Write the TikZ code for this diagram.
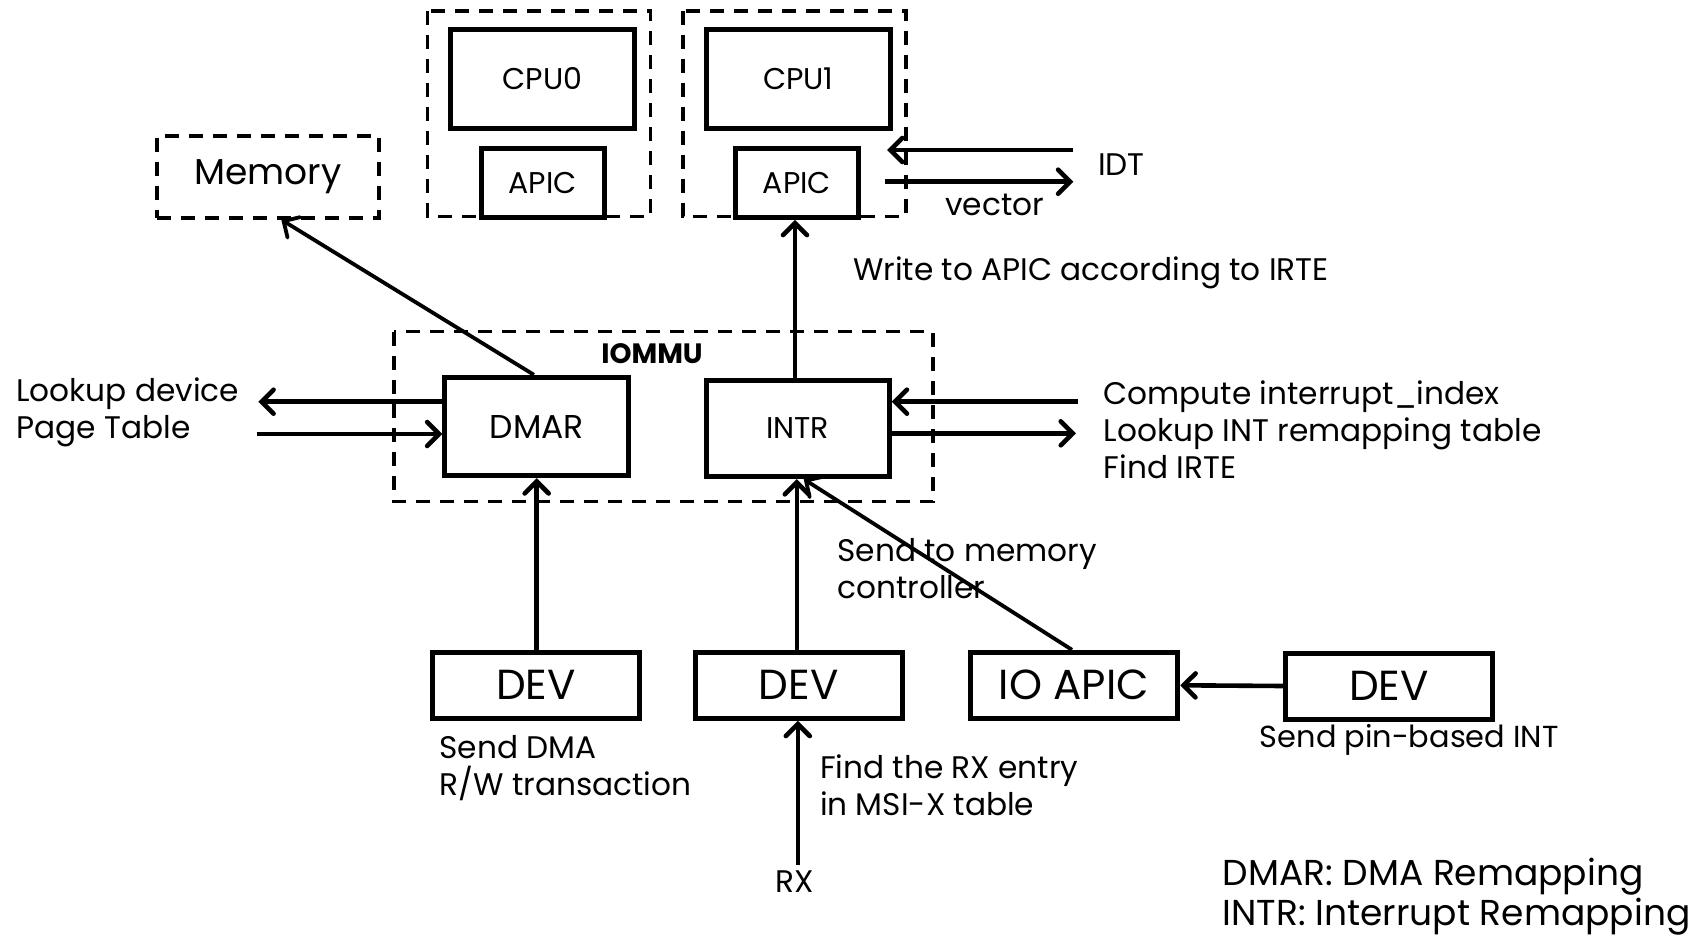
\documentclass[tikz,border=0pt]{standalone}
\usepackage{fontspec}
\setmainfont{Poppins}
\usetikzlibrary{arrows.meta}
\begin{document}
\begin{tikzpicture}[x=0.5pt,y=-0.5pt,
  box/.style={draw,line width=2.5pt,inner sep=0pt,minimum width=#1},
  grp/.style={draw,line width=1.7pt,dash pattern=on 7pt off 5pt},
  arr/.style={line width=2.3pt,-{Straight Barb[length=6pt,width=12pt,line cap=round]}},
  lbl/.style={inner sep=0pt,align=left,font=\fontsize{15.6}{18.5}\selectfont},
  mid/.style={font=\fontsize{15}{18}\selectfont},
  big/.style={font=\fontsize{21}{24}\selectfont}]
\useasboundingbox (0,0) rectangle (1704,937);

% dashed groups
\node[grp,minimum width=111pt,minimum height=41pt,font=\fontsize{18}{20}\selectfont] (mem) at (267.8,177) {Memory};
\draw[grp] (427.6,11) rectangle (650.4,216.7);
\draw[grp] (683,11) rectangle (906,216.7);
\draw[grp] (393.8,331.7) rectangle (932.8,501.7);
\node[font=\bfseries\fontsize{14}{16}\selectfont] (iommu) at (652,354) {IOMMU};

% CPUs and local APICs
\node[box=91.8pt,minimum height=49.5pt,mid] (cpu0) at (542.5,78.8) {CPU0};
\node[box=61.5pt,minimum height=34.3pt,mid] (apic0) at (542.5,183) {APIC};
\node[box=92.4pt,minimum height=49.5pt,mid] (cpu1) at (798.4,78.8) {CPU1};
\node[box=61.1pt,minimum height=34.3pt,mid] (apic1) at (797,183) {APIC};

% IOMMU units
\node[box=91.8pt,minimum height=49.2pt,font=\fontsize{16.5}{18}\selectfont] (dmar) at (536.7,426.5) {DMAR};
\node[box=91.6pt,minimum height=48.3pt,mid] (intr) at (797.6,428.3) {INTR};

% devices
\node[box=103.9pt,minimum height=33pt,big] (dev1) at (536,685.3) {DEV};
\node[box=103.6pt,minimum height=33pt,big] (dev2) at (798.6,685.3) {DEV};
\node[box=103.9pt,minimum height=33pt,big] (ioapic) at (1073.9,685.3) {IO APIC};
\node[box=103.7pt,minimum height=33pt,big] (dev3) at (1389,686) {DEV};

% free ends
\coordinate (idtin) at (1073.3,150);
\coordinate (idttip) at (887,150);
\coordinate (vecbeg) at (885.4,181.7);
\coordinate (vecend) at (1073.3,181.7);
\coordinate (pgout) at (258.3,401.7);
\coordinate (pgin) at (256.6,434);
\coordinate (irin) at (1077.7,401.7);
\coordinate (irout) at (1076,433.3);
\coordinate (rx) at (797.8,865);

% connectors
\draw[arr,line width=1.9pt] (dmar.north -| 533.9,0) -- (mem.south -| 281.3,0);
\draw[arr] (intr.north -| 795,0) -- (apic1.south -| 795,0);
\draw[arr] (idtin) -- (idttip);
\draw[arr] (vecbeg) -- (vecend);
\draw[arr] (dmar.west |- pgout) -- (pgout);
\draw[arr] (pgin) -- (dmar.west |- pgin);
\draw[arr] (irin) -- (intr.east |- irin);
\draw[arr] (intr.east |- irout) -- (irout);
\draw[arr] (dev1.north -| 536.7,0) -- (dmar.south -| 536.7,0);
\draw[arr] (dev2.north -| 796.8,0) -- (intr.south -| 796.8,0);
\draw[arr,line width=1.9pt] (ioapic.north -| 1072,0) -- (intr.south -| 803.7,0);
\draw[arr] (rx) -- (dev2.south -| rx);
\draw[arr] (dev3.west) -- (ioapic.east);

% labels
\node[lbl,anchor=west] (idt) at (1097.8,165) {IDT};
\node[lbl,anchor=west] (vec) at (945,205) {vector};
\node[lbl,anchor=west] (wr) at (852.7,273) {Write to APIC according to IRTE};
\node[lbl,anchor=west] (lk) at (16,412.5) {Lookup device\\Page Table};
\node[lbl,anchor=west] (cmp) at (1103.3,430) {Compute interrupt\_index\\Lookup INT remapping table\\Find IRTE};
\node[lbl,anchor=west] (smc) at (837,568.3) {Send to memory\\controller};
\node[lbl,anchor=west] (sdma) at (439,768.3) {Send DMA\\R/W transaction};
\node[lbl,anchor=west] (frx) at (819.6,785) {Find the RX entry\\in MSI-X table};
\node[lbl] (rxl) at (795,881.7) {RX};
\node[lbl,anchor=west,font=\fontsize{15.2}{18}\selectfont] (pin) at (1259.5,740) {Send pin-based INT};
\node[lbl,anchor=west,font=\fontsize{18}{18.4}\selectfont] (leg) at (1222.4,896.6) {DMAR: DMA Remapping\\INTR: Interrupt Remapping};
\end{tikzpicture}
\end{document}
